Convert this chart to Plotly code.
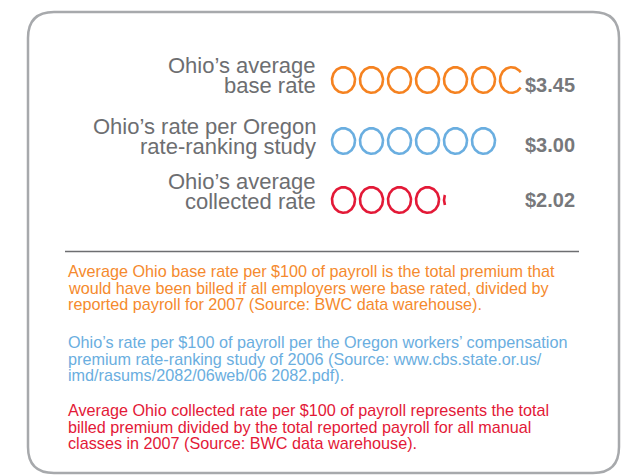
import numpy as np
import plotly.graph_objects as go

# ---- data ----
row_labels = [["Ohio’s average", "base rate"],
              ["Ohio’s rate per Oregon", "rate-ranking study"],
              ["Ohio’s average", "collected rate"]]
values = [3.45, 3.00, 2.02]
value_labels = ["$3.45", "$3.00", "$2.02"]
unit_per_circle = 0.50
row_colors = ["#f58220", "#6aaee0", "#e31937"]

notes = [
    ["Average Ohio base rate per $100 of payroll is the total premium that",
     "would have been billed if all employers were base rated, divided by",
     "reported payroll for 2007 (Source: BWC data warehouse)."],
    ["Ohio’s rate per $100 of payroll per the Oregon workers’ compensation",
     "premium rate-ranking study of 2006 (Source: www.cbs.state.or.us/",
     "imd/rasums/2082/06web/06 2082.pdf)."],
    ["Average Ohio collected rate per $100 of payroll represents the total",
     "billed premium divided by the total reported payroll for all manual",
     "classes in 2007 (Source: BWC data warehouse)."],
]
note_colors = ["#f58a2e", "#6aaee0", "#e31937"]

# ---- layout constants ----
W, H = 628, 476
row_y = [80, 141, 200]
label_y = [[65.0, 85.0], [126.0, 146.0], [181.0, 201.0]]
value_y = [84.5, 144.5, 199.5]
circ_x0 = 332.0
pitch = 28.0
rx, ry = 11.5, 12.8
gray = "#6d6e71"
FONT = "Liberation Sans, Arial"

fig = go.Figure()

for r, v in enumerate(values):
    n = v / unit_per_circle
    k = 0
    while k < n - 1e-9:
        frac = min(1.0, n - k)
        cx = circ_x0 + k * pitch + rx
        cy = row_y[r]
        if frac >= 1.0:
            th = np.linspace(0, 2 * np.pi, 120)
        else:
            clip = circ_x0 + k * pitch + frac * 2 * rx
            c = (clip - cx) / rx
            th0 = np.arccos(np.clip(c, -1, 1))
            th = np.linspace(th0, 2 * np.pi - th0, 100)
        fig.add_trace(go.Scatter(
            x=cx + rx * np.cos(th), y=cy + ry * np.sin(th),
            mode="lines", line=dict(color=row_colors[r], width=2.6),
            hoverinfo="skip", showlegend=False))
        k += 1

annotations = []
for r in range(3):
    for j, line in enumerate(row_labels[r]):
        annotations.append(dict(x=318, y=label_y[r][j], text=line, xref="x", yref="y",
                                xanchor="right", yanchor="middle", showarrow=False,
                                font=dict(family=FONT, size=22, color=gray)))
    annotations.append(dict(x=577, y=value_y[r], text="<b>" + value_labels[r] + "</b>",
                            xref="x", yref="y", xanchor="right", yanchor="middle",
                            showarrow=False,
                            font=dict(family=FONT, size=20, color="#77787b")))

note_y = [[271, 287.5, 304], [342, 358.5, 375], [410, 426.5, 443]]
for p in range(3):
    for j, line in enumerate(notes[p]):
        annotations.append(dict(x=66, y=note_y[p][j], text=line, xref="x", yref="y",
                                xanchor="left", yanchor="middle", showarrow=False,
                                font=dict(family=FONT, size=16.2,
                                          color=note_colors[p])))

# rounded frame
x0, x1, y0, y1, rad = 28, 619, 12, 473, 26
path = (f"M {x0+rad},{y0} L {x1-rad},{y0} Q {x1},{y0} {x1},{y0+rad} "
        f"L {x1},{y1-rad} Q {x1},{y1} {x1-rad},{y1} L {x0+rad},{y1} "
        f"Q {x0},{y1} {x0},{y1-rad} L {x0},{y0+rad} Q {x0},{y0} {x0+rad},{y0} Z")
shapes = [
    dict(type="path", path=path, xref="x", yref="y",
         line=dict(color="#a7a9ac", width=2.5)),
    dict(type="line", x0=65, x1=579, y0=251.5, y1=251.5, xref="x", yref="y",
         line=dict(color="#6d6e71", width=1.5)),
]

fig.update_layout(
    width=W, height=H, margin=dict(l=0, r=0, t=0, b=0),
    paper_bgcolor="white", plot_bgcolor="white",
    xaxis=dict(range=[0, W], visible=False, fixedrange=True),
    yaxis=dict(range=[H, 0], visible=False, fixedrange=True),
    annotations=annotations, shapes=shapes, showlegend=False,
)

fig.write_html("out.html")
